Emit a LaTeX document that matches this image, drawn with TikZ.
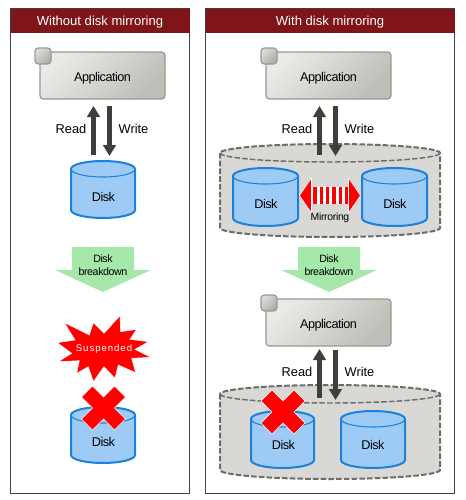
\documentclass[tikz,border=0pt]{standalone}
\usepackage{fontspec}
\setmainfont{Liberation Sans}
\usetikzlibrary{arrows.meta}
\definecolor{hdr}{HTML}{7F1518}
\definecolor{frameC}{HTML}{404040}
\definecolor{arrowC}{HTML}{3F3E38}
\definecolor{diskF}{HTML}{9ECBF5}
\definecolor{diskS}{HTML}{1A82DC}
\definecolor{greenF}{HTML}{A5E8A9}
\definecolor{groupF}{HTML}{D9D8D5}
\definecolor{groupS}{HTML}{6E6E68}
\definecolor{appS}{HTML}{9A9A92}
\definecolor{appL}{HTML}{EAEAE8}
\definecolor{appD}{HTML}{BEBEB8}
\definecolor{cornL}{HTML}{DCDCDA}
\definecolor{cornD}{HTML}{ABABA7}
\newcommand{\tight}{\addfontfeature{LetterSpace=-4}}
\tikzset{
  panel/.style={draw=frameC,line width=0.75pt,fill=white},
  header/.style={fill=hdr,text=white,font=\fontsize{9.8pt}{11pt}\selectfont,inner sep=0pt,minimum height=18.5pt,anchor=center},
  appbox/.style={draw=appS,line width=0.9pt,rounded corners=2.5pt,top color=appL,bottom color=appD,shading angle=45,minimum width=93.75pt,minimum height=35.25pt,inner sep=0pt,font=\fontsize{9.5pt}{11pt}\selectfont\tight},
  appcorner/.style={draw=appS,line width=0.9pt,rounded corners=2.5pt,top color=cornL,bottom color=cornD,shading angle=45,minimum size=12pt,inner sep=0pt},
  rw/.style={font=\fontsize{9.6pt}{11pt}\selectfont,inner sep=0pt},
  disklabel/.style={font=\fontsize{9.5pt}{11pt}\selectfont\tight,inner sep=0pt},
  smalllabel/.style={font=\fontsize{8pt}{9.4pt}\selectfont\tight,inner sep=0pt,align=center},
  fat/.style={draw=arrowC,line width=3.75pt,-{Triangle[length=8.25pt,width=9.4pt]}},
  crossmark/.style={fill=red,draw=white,line width=0.5pt},
  greenarrow/.style={fill=greenF},
}
\newcommand{\cyl}[8]{% x1 x2 ytop ybot ry drawstyle fill topstyle (centres of top / bottom ellipses)
  \pgfmathsetmacro{\xc}{(#1+#2)/2}
  \pgfmathsetmacro{\rx}{(#2-#1)/2}
  \pgfmathsetmacro{\kx}{0.5523*\rx}
  \pgfmathsetmacro{\ky}{0.5523*#5}
  \draw[#6,fill=#7] (#1,#3) -- (#1,#4) .. controls (#1,#4+\ky) and (\xc-\kx,#4+#5) .. (\xc,#4+#5)
    .. controls (\xc+\kx,#4+#5) and (#2,#4+\ky) .. (#2,#4) -- (#2,#3)
    .. controls (#2,#3-\ky) and (\xc+\kx,#3-#5) .. (\xc,#3-#5)
    .. controls (\xc-\kx,#3-#5) and (#1,#3-\ky) .. (#1,#3) -- cycle;
  \draw[#8] (#1,#3) .. controls (#1,#3+\ky) and (\xc-\kx,#3+#5) .. (\xc,#3+#5)
    .. controls (\xc+\kx,#3+#5) and (#2,#3+\ky) .. (#2,#3);
}
\newcommand{\disk}[4]{\cyl{#1}{#2}{#3}{#4}{8}{draw=diskS,line width=1.5pt}{diskF}{draw=diskS,line width=0.8pt}}
\newcommand{\group}[2]{\cyl{220}{440}{#1}{#2}{9}{draw=groupS,line width=1.5pt,dash pattern=on 4.2pt off 1.6pt}{groupF}{draw=groupS,line width=1.1pt,dash pattern=on 4.2pt off 1.6pt}}
\newcommand{\crossat}[2]{\draw[crossmark,shift={(#1,#2)}] (-22,-11)--(-11,-22)--(0,-11)--(11,-22)--(22,-11)--(11,0)--(22,11)--(11,22)--(0,11)--(-11,22)--(-22,11)--(-11,0)--cycle;}
\newcommand{\greenarr}[1]{\fill[greenarrow,shift={(#1,0)}] (-31,247)--(31,247)--(31,270)--(48,270)--(0,292)--(-48,270)--(-31,270)--cycle;}
\newcommand{\applabel}{\raisebox{-4.6pt}[0pt][0pt]{Application}}
\begin{document}
\begin{tikzpicture}[x=0.75pt,y=-0.75pt]
\useasboundingbox (0,0) rectangle (465,500);
% panels
\draw[panel] (10.5,8.5) rectangle (189.5,493);
\draw[panel] (205.5,8.5) rectangle (454.5,493);
\node[header,minimum width=134.25pt] (h1) at (100,21) {\raisebox{-3.4pt}[0pt][0pt]{Without disk mirroring}};
\node[header,minimum width=186.75pt] (h2) at (330,21) {\raisebox{-3.4pt}[0pt][0pt]{With disk mirroring}};

% LEFT
\node[appbox] (a1) at (102.5,75.5) {\applabel};
\node[appcorner] (c1) at (43,56) {};
\coordinate (r1s) at (93.5,155); \coordinate (r1e) at (93.5,106);
\coordinate (w1s) at (109.5,106); \coordinate (w1e) at (109.5,156);
\draw[fat] (r1s) -- (r1e);
\draw[fat] (w1s) -- (w1e);
\node[rw] (rd1) at (71,129) {Read};
\node[rw] (wr1) at (133.5,129) {Write};
\disk{71}{135}{169}{210}
\node[disklabel] (d1) at (103.5,197) {Disk};
\greenarr{103}
\node[smalllabel] (g1) at (103,265) {Disk\\[0.6pt]breakdown};
\begin{scope}[shift={(50,310)},x=0.25pt,y=-0.25pt]
\draw[fill=red,draw=white,line width=0.4pt] (43,38)--(118,75)--(130,38)--(162,70)--(210,17)--(212,65)--(260,58)--(240,88)--(296,95)--(255,118)--(303,142)--(245,145)--(257,188)--(205,165)--(195,205)--(162,170)--(130,215)--(115,170)--(80,190)--(88,152)--(25,155)--(65,130)--(22,98)--(75,90)--cycle;
\end{scope}
\node[inner sep=0pt,text=white,font=\fontsize{7.2pt}{8pt}\selectfont\addfontfeature{LetterSpace=10}] (s1) at (104,349.5) {Suspended};
\disk{71}{135}{415}{455}
\node[disklabel] (d2) at (103.5,442) {Disk};
\crossat{103.5}{408}

% RIGHT top
\node[appbox] (a2) at (328.5,75.5) {\applabel};
\node[appcorner] (c2) at (269,56) {};
\group{153}{228}
\coordinate (r2s) at (319.5,155); \coordinate (r2e) at (319.5,106);
\coordinate (w2s) at (335.5,106); \coordinate (w2e) at (335.5,156);
\draw[fat] (r2s) -- (r2e);
\draw[fat] (w2s) -- (w2e);
\node[rw] (rd2) at (297,129) {Read};
\node[rw] (wr2) at (359.5,129) {Write};
\disk{233}{298}{176}{218}
\disk{362}{427}{176}{218}
\node[disklabel] (d3) at (266,203.5) {Disk};
\node[disklabel] (d4) at (395,203.5) {Disk};
\fill[white] (311,187) rectangle (349,204);
\draw[fill=red,draw=white,line width=0.4pt] (299.5,195.5)--(311.5,178)--(311.5,213)--cycle;
\draw[fill=red,draw=white,line width=0.4pt] (360.5,195.5)--(348.5,178)--(348.5,213)--cycle;
\foreach \i in {0,...,5} \fill[red] ({313.3+6.33*\i},187) rectangle ++(3.3,17);
\node[smalllabel,font=\fontsize{7.8pt}{9pt}\selectfont\addfontfeature{LetterSpace=-3}] (m1) at (330,218) {Mirroring};
\greenarr{329}
\node[smalllabel] (g2) at (329,265) {Disk\\[0.6pt]breakdown};

% RIGHT bottom
\node[appbox] (a3) at (328.5,322.5) {\applabel};
\node[appcorner] (c3) at (269,303) {};
\group{394}{470}
\coordinate (r3s) at (319.5,398); \coordinate (r3e) at (319.5,349);
\coordinate (w3s) at (335.5,349.5); \coordinate (w3e) at (335.5,400);
\draw[fat] (r3s) -- (r3e);
\draw[fat] (w3s) -- (w3e);
\node[rw] (rd3) at (297,372) {Read};
\node[rw] (wr3) at (359.5,372) {Write};
\disk{251}{314}{419}{460}
\disk{341}{405}{419}{460}
\node[disklabel] (d5) at (283.5,445) {Disk};
\node[disklabel] (d6) at (373,445) {Disk};
\crossat{283}{412}
\end{tikzpicture}
\end{document}
